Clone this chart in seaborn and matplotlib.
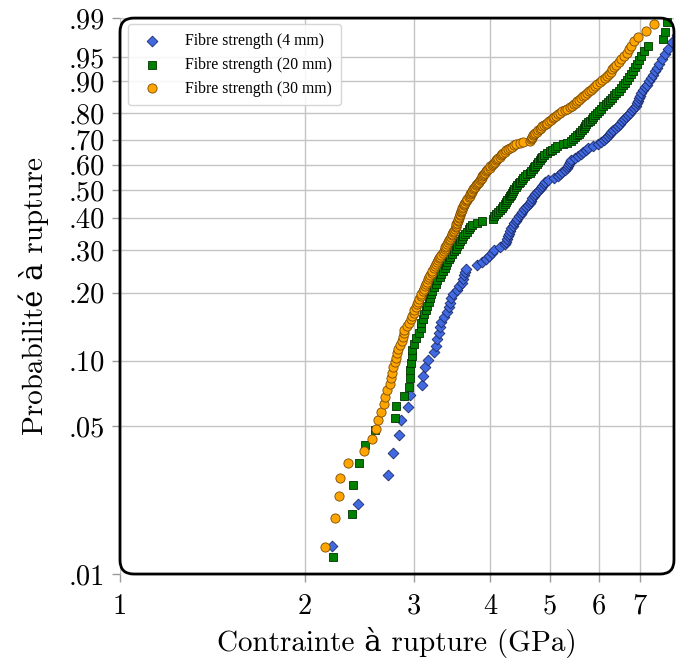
import numpy as np
import pandas as pd
import matplotlib
matplotlib.use('Agg')
import matplotlib.pyplot as plt
import seaborn as sns
from matplotlib.patches import FancyBboxPatch
from matplotlib.ticker import NullLocator

# Contraintes à rupture (GPa), triées, une liste par longueur de jauge
strength_4mm = [
    1.95, 2.21, 2.435, 2.73, 2.775, 2.84, 2.86, 2.935, 2.955, 3.095,
    3.113, 3.13, 3.17, 3.24, 3.26, 3.28, 3.295, 3.31, 3.325, 3.36,
    3.40, 3.42, 3.44, 3.45, 3.48, 3.53, 3.56, 3.59, 3.61, 3.625,
    3.635, 3.65, 3.81, 3.88, 3.94, 3.98, 4.02, 4.05, 4.15, 4.225,
    4.24, 4.26, 4.27, 4.29, 4.31, 4.325, 4.35, 4.37, 4.40, 4.42,
    4.45, 4.48, 4.50, 4.54, 4.57, 4.61, 4.64, 4.66, 4.68, 4.70,
    4.73, 4.76, 4.80, 4.83, 4.86, 4.88, 4.91, 4.96, 5.08, 5.15,
    5.19, 5.23, 5.28, 5.32, 5.34, 5.36, 5.38, 5.41, 5.48, 5.56,
    5.61, 5.66, 5.71, 5.77, 5.87, 5.98, 6.05, 6.11, 6.17, 6.21,
    6.25, 6.29, 6.33, 6.39, 6.44, 6.49, 6.54, 6.59, 6.64, 6.69,
    6.74, 6.80, 6.85, 6.90, 6.93, 6.95, 6.98, 7.00, 7.03, 7.08,
    7.14, 7.19, 7.24, 7.30, 7.35, 7.41, 7.46, 7.53, 7.60, 7.68,
    7.78, 7.90, 8.05, 8.30, 8.70,
]
strength_20mm = [
    2.02, 2.22, 2.38, 2.39, 2.45, 2.50, 2.60, 2.80, 2.81, 2.90,
    2.945, 2.955, 2.96, 2.967, 2.98, 2.985, 3.00, 3.03, 3.06, 3.08,
    3.09, 3.11, 3.125, 3.145, 3.16, 3.175, 3.185, 3.20, 3.22, 3.24,
    3.26, 3.28, 3.31, 3.33, 3.35, 3.37, 3.385, 3.40, 3.42, 3.44,
    3.46, 3.485, 3.51, 3.53, 3.555, 3.575, 3.59, 3.61, 3.64, 3.66,
    3.685, 3.71, 3.74, 3.80, 3.87, 4.04, 4.06, 4.09, 4.12, 4.15,
    4.17, 4.20, 4.22, 4.245, 4.26, 4.28, 4.30, 4.32, 4.34, 4.355,
    4.37, 4.40, 4.42, 4.45, 4.47, 4.50, 4.525, 4.56, 4.59, 4.63,
    4.66, 4.69, 4.71, 4.73, 4.76, 4.78, 4.81, 4.83, 4.86, 4.89,
    4.94, 4.99, 5.04, 5.09, 5.14, 5.25, 5.33, 5.41, 5.45, 5.49,
    5.53, 5.57, 5.60, 5.64, 5.67, 5.70, 5.73, 5.76, 5.80, 5.84,
    5.88, 5.92, 5.96, 6.00, 6.05, 6.10, 6.16, 6.21, 6.26, 6.31,
    6.36, 6.41, 6.46, 6.51, 6.56, 6.61, 6.66, 6.71, 6.76, 6.81,
    6.87, 6.93, 6.98, 7.03, 7.10, 7.22, 7.62, 7.70, 7.75, 7.98,
]
strength_30mm = [
    1.92, 2.06, 2.15, 2.24, 2.27, 2.28, 2.35, 2.49, 2.57, 2.61,
    2.63, 2.66, 2.685, 2.70, 2.72, 2.75, 2.76, 2.77, 2.78, 2.80,
    2.81, 2.82, 2.83, 2.85, 2.87, 2.88, 2.89, 2.90, 2.93, 2.95,
    2.97, 2.98, 3.00, 3.01, 3.025, 3.04, 3.05, 3.065, 3.08, 3.09,
    3.105, 3.12, 3.13, 3.145, 3.155, 3.17, 3.18, 3.195, 3.21, 3.22,
    3.233, 3.247, 3.26, 3.275, 3.29, 3.30, 3.316, 3.33, 3.345, 3.357,
    3.37, 3.38, 3.39, 3.40, 3.415, 3.425, 3.437, 3.45, 3.46, 3.47,
    3.48, 3.494, 3.50, 3.51, 3.52, 3.52, 3.53, 3.54, 3.545, 3.55,
    3.56, 3.565, 3.57, 3.58, 3.585, 3.59, 3.60, 3.606, 3.617, 3.63,
    3.64, 3.65, 3.66, 3.67, 3.69, 3.70, 3.71, 3.72, 3.73, 3.737,
    3.75, 3.76, 3.78, 3.79, 3.80, 3.82, 3.83, 3.84, 3.86, 3.87,
    3.88, 3.89, 3.90, 3.92, 3.93, 3.95, 3.97, 3.99, 4.00, 4.02,
    4.04, 4.055, 4.07, 4.09, 4.10, 4.12, 4.14, 4.16, 4.18, 4.20,
    4.22, 4.24, 4.27, 4.30, 4.34, 4.37, 4.40, 4.46, 4.52, 4.64,
    4.66, 4.67, 4.68, 4.69, 4.70, 4.73, 4.76, 4.78, 4.81, 4.84,
    4.86, 4.89, 4.92, 4.94, 4.98, 5.01, 5.05, 5.08, 5.11, 5.15,
    5.18, 5.23, 5.28, 5.33, 5.39, 5.43, 5.47, 5.51, 5.54, 5.58,
    5.62, 5.66, 5.70, 5.74, 5.79, 5.83, 5.88, 5.92, 5.97, 6.03,
    6.08, 6.14, 6.19, 6.23, 6.27, 6.31, 6.36, 6.39, 6.46, 6.53,
    6.60, 6.66, 6.72, 6.78, 6.85, 6.94, 7.15, 7.38, 8.20, 8.60,
]

series_labels = ['Fibre strength (4 mm)', 'Fibre strength (20 mm)', 'Fibre strength (30 mm)']
x_ticks = [1, 2, 3, 4, 5, 6, 7]
y_ticks = [0.01, 0.05, 0.10, 0.20, 0.30, 0.40, 0.50, 0.60, 0.70, 0.80, 0.90, 0.95, 0.99]
y_tick_labels = ['.01', '.05', '.10', '.20', '.30', '.40', '.50', '.60', '.70', '.80', '.90', '.95', '.99']


def median_rank(values):
    # rang médian de Bernard
    n = len(values)
    i = np.arange(1, n + 1)
    return (i - 0.3) / (n + 0.4)


def weibull_fwd(p):
    p = np.clip(np.asarray(p, dtype=float), 1e-12, 1 - 1e-12)
    return np.log(-np.log(1 - p))


def weibull_inv(w):
    return 1 - np.exp(-np.exp(np.asarray(w, dtype=float)))


frames = []
for label, vals in zip(series_labels, [strength_4mm, strength_20mm, strength_30mm]):
    vals = np.sort(vals)
    frames.append(pd.DataFrame({'strength': vals, 'prob': median_rank(vals), 'serie': label}))
df = pd.concat(frames, ignore_index=True)

plt.rcParams['font.family'] = ['cmr10', 'DejaVu Serif']
plt.rcParams['axes.formatter.use_mathtext'] = True

fig = plt.figure(figsize=(6.76, 6.64), dpi=100)
ax = fig.add_axes([0.1775, 0.1355, 0.8195, 0.8373])

styles = {
    series_labels[0]: dict(marker='D', color='#4169e1', edgecolor='#1c2a66', s=30),
    series_labels[1]: dict(marker='s', color='#008000', edgecolor='#003300', s=38),
    series_labels[2]: dict(marker='o', color='#ffa500', edgecolor='#7a4a00', s=44),
}
for label in series_labels:
    sub = df[df['serie'] == label]
    sns.scatterplot(data=sub, x='strength', y='prob', ax=ax, label=label,
                    linewidth=0.6, **styles[label])

ax.set_xscale('log')
ax.set_yscale('function', functions=(weibull_fwd, weibull_inv))
ax.set_xlim(1, 7.95)
ax.set_ylim(0.01, 0.99)
ax.set_xticks(x_ticks, [str(t) for t in x_ticks])
ax.set_yticks(y_ticks, y_tick_labels)
ax.xaxis.set_minor_locator(NullLocator())
ax.yaxis.set_minor_locator(NullLocator())
ax.tick_params(direction='out', length=6, width=1, color='#9a9a9a', labelsize=20.5)
ax.tick_params(axis='x', pad=8)
ax.tick_params(axis='y', pad=5)
ax.grid(True, color='#c4c4c4', linewidth=1)
ax.set_axisbelow(True)
for sp in ax.spines.values():
    sp.set_visible(False)

# cadre aux coins arrondis
frame = FancyBboxPatch((0, 0), 1, 1, boxstyle='round,pad=0,rounding_size=0.025',
                       transform=ax.transAxes, fill=False, linewidth=2,
                       edgecolor='black', clip_on=False, zorder=5)
ax.add_patch(frame)

ax.set_xlabel('Contrainte à rupture (GPa)', fontsize=21, labelpad=5)
ax.set_ylabel('Probabilité à rupture', fontsize=21, labelpad=14)

leg = ax.legend(loc='upper left', bbox_to_anchor=(0.0144, 0.989), borderaxespad=0,
                prop={'family': 'Liberation Serif', 'size': 11.3},
                frameon=True, fancybox=True, framealpha=0.85, edgecolor='#cfcfcf',
                handletextpad=1.1, labelspacing=0.5, borderpad=0.55)

fig.savefig('out.png', dpi=100)
